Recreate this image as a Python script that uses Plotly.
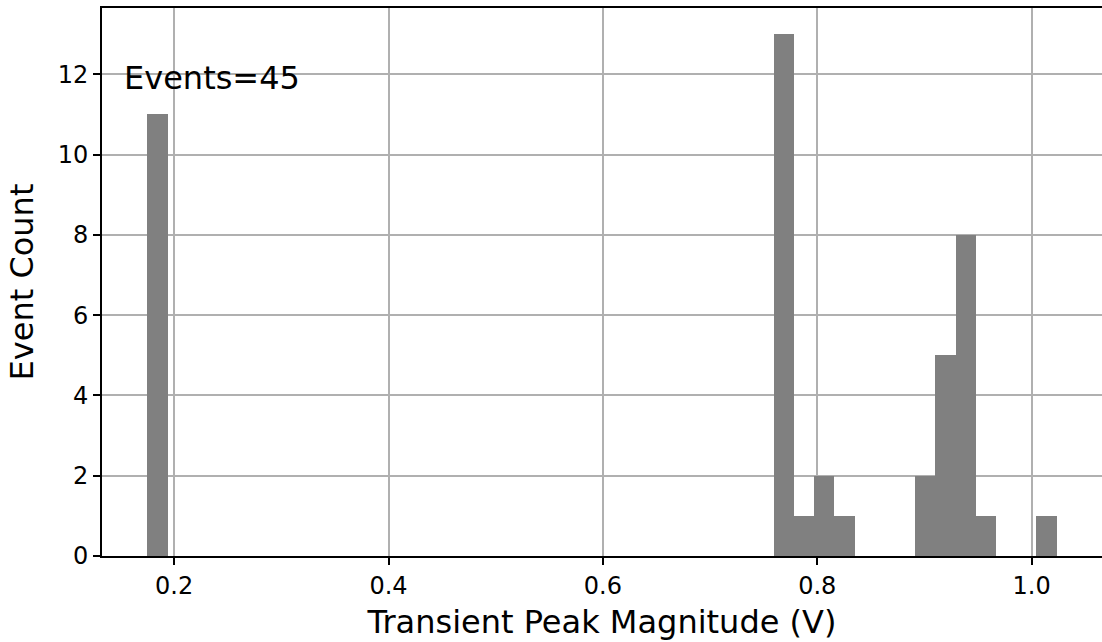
import numpy as np
import plotly.graph_objects as go

# Histogram data
bin_start = 0.1751
bin_end = 1.0233
n_bins = 45
bin_index = [0, 31, 32, 33, 34, 38, 39, 40, 41, 44]
bin_count = [11, 13, 1, 2, 1, 2, 5, 8, 1, 1]
x_ticks = [0.2, 0.4, 0.6, 0.8, 1.0]
y_ticks = [0, 2, 4, 6, 8, 10, 12]

edges = np.linspace(bin_start, bin_end, n_bins + 1)
width = edges[1] - edges[0]
counts = np.zeros(n_bins)
for i, c in zip(bin_index, bin_count):
    counts[i] = c
centers = (edges[:-1] + edges[1:]) / 2

total = int(sum(bin_count))
rng = bin_end - bin_start
x_range = [bin_start - 0.05 * rng, bin_end + 0.05 * rng]
y_range = [0, max(bin_count) * 1.05]

fig = go.Figure()
fig.add_trace(go.Bar(x=centers, y=counts, width=width,
                     marker=dict(color="#808080", line=dict(width=0)),
                     showlegend=False))

font = "DejaVu Sans, sans-serif"
fig.update_layout(
    width=1102, height=642,
    margin=dict(l=102, r=0, t=8, b=86),
    plot_bgcolor="white", paper_bgcolor="white",
    bargap=0,
    font=dict(family=font, color="black", size=24),
)
fig.update_xaxes(range=x_range, tickvals=x_ticks, ticktext=[f"{v:.1f}" for v in x_ticks],
                 showline=True, linecolor="black", linewidth=2, mirror=True,
                 ticks="outside", ticklen=7, tickwidth=2, tickcolor="black",
                 showgrid=True, gridcolor="#b0b0b0", gridwidth=1.5, zeroline=False,
                 tickfont=dict(size=24),
                 title=dict(text="Transient Peak Magnitude (V)", font=dict(size=32), standoff=12))
fig.update_yaxes(range=y_range, tickvals=y_ticks,
                 showline=True, linecolor="black", linewidth=2, mirror=False,
                 ticks="outside", ticklen=7, tickwidth=2, tickcolor="black",
                 showgrid=True, gridcolor="#b0b0b0", gridwidth=1.5, zeroline=False,
                 tickfont=dict(size=24),
                 title=dict(text="Event Count", font=dict(size=32), standoff=14))
fig.add_annotation(text=f"Events={total}", xref="paper", yref="paper",
                   x=0.02, y=0.91, xanchor="left", yanchor="top", showarrow=False,
                   font=dict(size=32, family=font, color="black"))

fig.write_html("out.html")
